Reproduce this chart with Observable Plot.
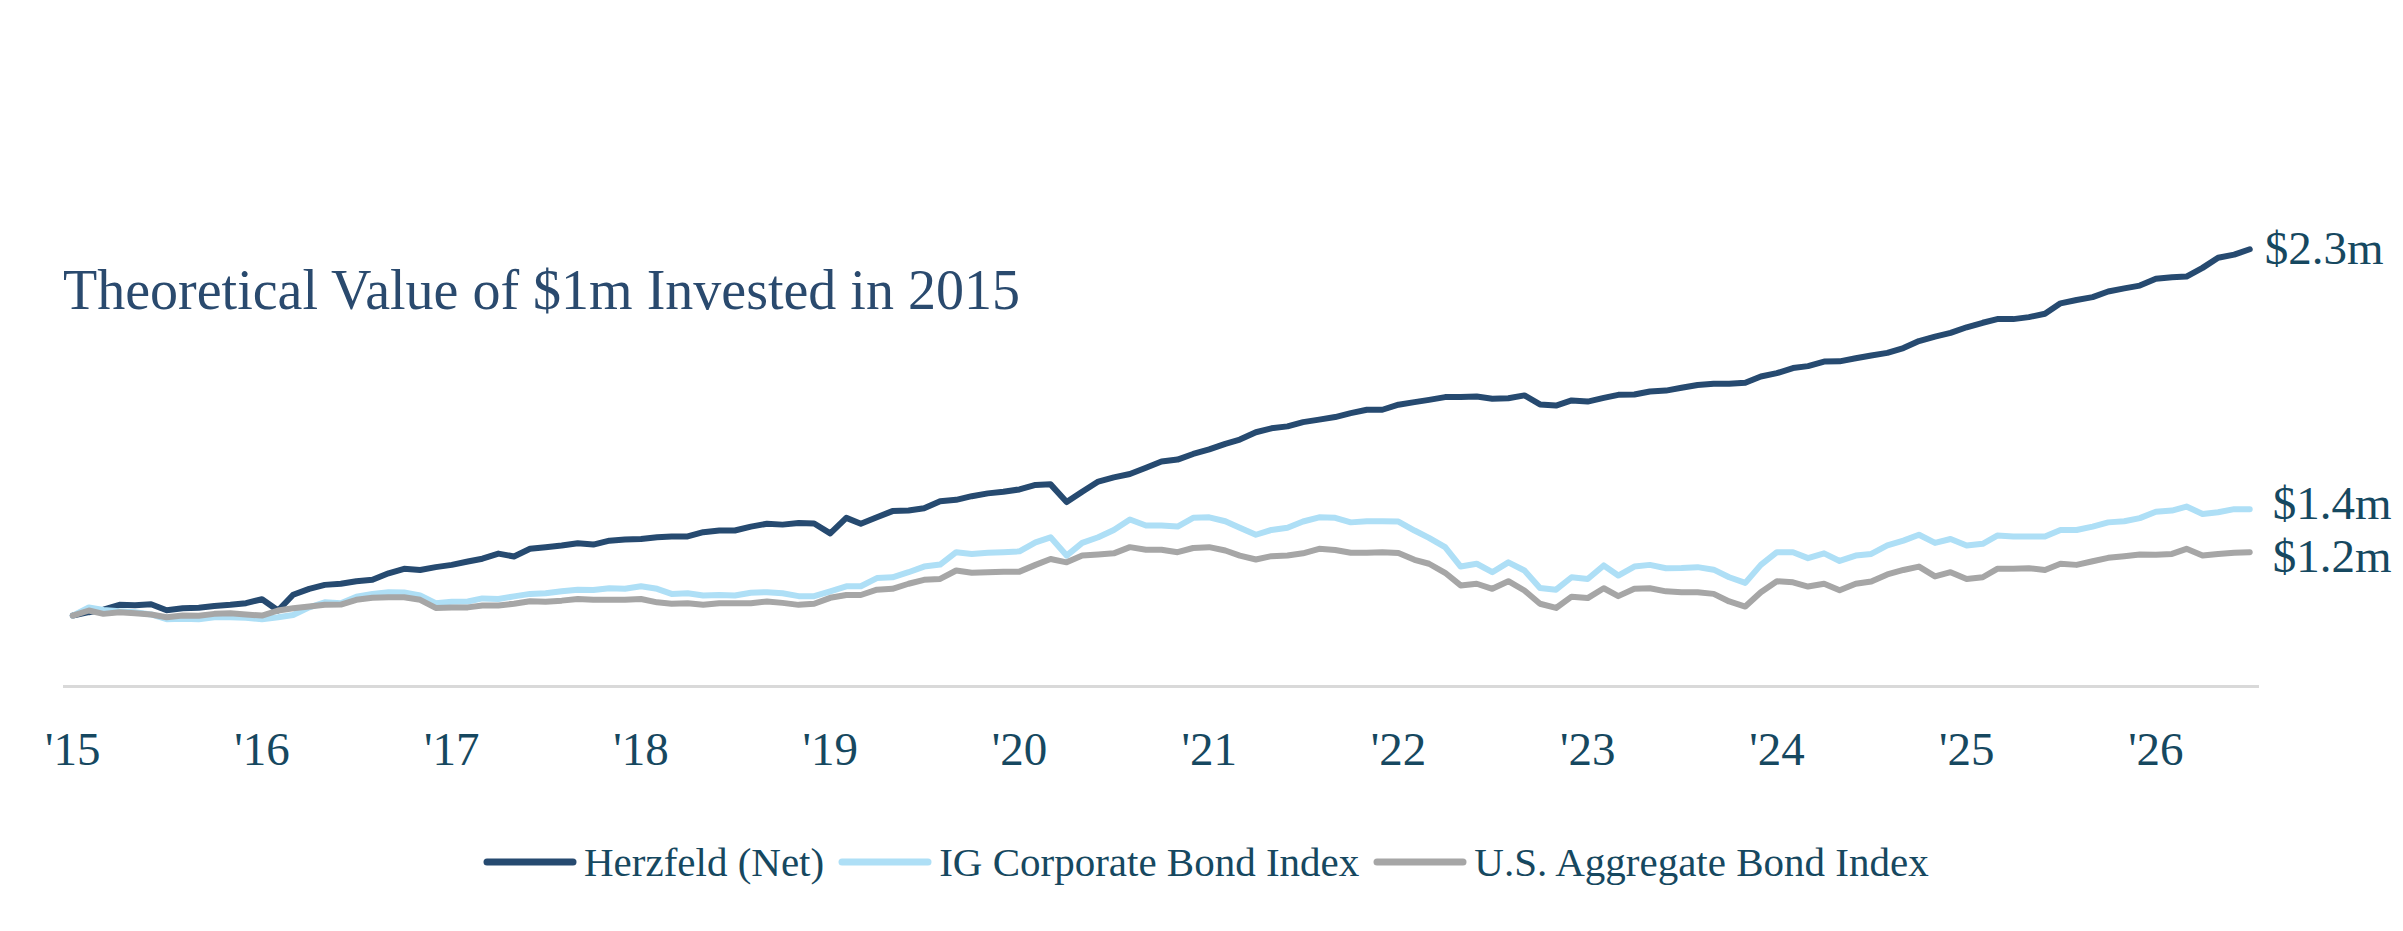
<!DOCTYPE html>
<html>
<head>
<meta charset="utf-8">
<script src="https://cdn.jsdelivr.net/npm/d3@7"></script>
<script src="https://cdn.jsdelivr.net/npm/@observablehq/plot@0.6"></script>
<style>
  html, body { margin: 0; padding: 0; background: #fff; }
  #wrap { position: relative; width: 2403px; height: 931px; overflow: hidden; font-family: "Liberation Serif", serif; }
  #title { position: absolute; left: 63px; top: 262px; font-size: 56px; line-height: 56px; color: #2a4a6e; white-space: nowrap; }
  #chart { position: absolute; left: 0; top: 0; }
  #legend { position: absolute; left: 483px; top: 837px; height: 50px; display: flex; align-items: center; font-size: 41px; color: #164860; white-space: nowrap; }
  .item { display: flex; align-items: center; margin-right: 14px; }
  .item svg { margin-right: 7px; }
</style>
</head>
<body>
<div id="wrap">
  <div id="chart"></div>
  <div id="title">Theoretical Value of $1m Invested in 2015</div>
  <div id="legend"></div>
</div>
<script>
// ---- data (monthly values, Dec 2014 = $1m start) ----
const seriesNames = ["Herzfeld (Net)", "IG Corporate Bond Index", "U.S. Aggregate Bond Index"];
const seriesColors = ["#264a70", "#aedff6", "#a6a6a6"];
const endLabels = ["$2.3m", "$1.4m", "$1.2m"];
const tickYears = [2015, 2016, 2017, 2018, 2019, 2020, 2021, 2022, 2023, 2024, 2025, 2026];
const tickLabels = ["'15", "'16", "'17", "'18", "'19", "'20", "'21", "'22", "'23", "'24", "'25", "'26"];

const herzfeld = [
  1.000, 1.012, 1.021, 1.038, 1.037, 1.040, 1.019, 1.026, 1.028, 1.034, 1.038, 1.044,
  1.058, 1.018, 1.074, 1.095, 1.109, 1.113, 1.122, 1.127, 1.150, 1.166, 1.162, 1.172,
  1.180, 1.192, 1.202, 1.220, 1.210, 1.237, 1.243, 1.249, 1.257, 1.252, 1.266, 1.270,
  1.272, 1.278, 1.281, 1.281, 1.296, 1.302, 1.302, 1.316, 1.326, 1.323, 1.329, 1.327,
  1.292, 1.347, 1.326, 1.349, 1.371, 1.373, 1.381, 1.406, 1.411, 1.424, 1.434, 1.440,
  1.448, 1.464, 1.466, 1.403, 1.440, 1.476, 1.491, 1.503, 1.525, 1.547, 1.554, 1.574,
  1.590, 1.610, 1.625, 1.651, 1.665, 1.672, 1.687, 1.696, 1.705, 1.719, 1.731, 1.731,
  1.749, 1.758, 1.766, 1.776, 1.776, 1.778, 1.770, 1.772, 1.782, 1.750, 1.746, 1.764,
  1.760, 1.773, 1.784, 1.785, 1.796, 1.799, 1.809, 1.819, 1.823, 1.823, 1.827, 1.849,
  1.861, 1.879, 1.886, 1.902, 1.903, 1.914, 1.924, 1.933, 1.950, 1.975, 1.991, 2.004,
  2.024, 2.040, 2.053, 2.053, 2.060, 2.072, 2.109, 2.121, 2.131, 2.151, 2.162, 2.172,
  2.196, 2.202, 2.204, 2.235, 2.271, 2.282, 2.301
];
const igCorporate = [
  1.000, 1.029, 1.020, 1.015, 1.012, 1.004, 0.987, 0.989, 0.987, 0.994, 0.994, 0.992,
  0.987, 0.994, 1.002, 1.029, 1.047, 1.044, 1.067, 1.077, 1.083, 1.082, 1.071, 1.044,
  1.049, 1.050, 1.061, 1.059, 1.068, 1.077, 1.079, 1.086, 1.092, 1.091, 1.097, 1.095,
  1.104, 1.095, 1.077, 1.079, 1.071, 1.073, 1.071, 1.081, 1.083, 1.079, 1.069, 1.069,
  1.086, 1.104, 1.104, 1.133, 1.136, 1.154, 1.174, 1.181, 1.225, 1.219, 1.223, 1.225,
  1.228, 1.260, 1.278, 1.213, 1.258, 1.278, 1.304, 1.341, 1.320, 1.320, 1.316, 1.347,
  1.349, 1.335, 1.312, 1.287, 1.304, 1.312, 1.334, 1.349, 1.347, 1.331, 1.335, 1.335,
  1.334, 1.302, 1.276, 1.243, 1.174, 1.184, 1.154, 1.189, 1.160, 1.098, 1.092, 1.136,
  1.130, 1.178, 1.142, 1.174, 1.180, 1.168, 1.169, 1.172, 1.163, 1.136, 1.116, 1.180,
  1.225, 1.225, 1.204, 1.221, 1.194, 1.213, 1.219, 1.249, 1.266, 1.287, 1.258, 1.272,
  1.249, 1.255, 1.284, 1.281, 1.281, 1.281, 1.304, 1.304, 1.316, 1.331, 1.335, 1.346,
  1.369, 1.373, 1.387, 1.361, 1.367, 1.378, 1.378
];
const usAggregate = [
  1.000, 1.018, 1.006, 1.012, 1.008, 1.004, 0.994, 1.000, 0.999, 1.006, 1.008, 1.004,
  1.000, 1.018, 1.026, 1.032, 1.038, 1.039, 1.056, 1.063, 1.065, 1.065, 1.056, 1.027,
  1.029, 1.029, 1.036, 1.036, 1.042, 1.051, 1.049, 1.053, 1.059, 1.056, 1.056, 1.056,
  1.059, 1.047, 1.042, 1.044, 1.038, 1.044, 1.044, 1.044, 1.050, 1.045, 1.038, 1.042,
  1.063, 1.073, 1.073, 1.092, 1.095, 1.113, 1.127, 1.130, 1.160, 1.152, 1.154, 1.156,
  1.156, 1.180, 1.201, 1.189, 1.213, 1.217, 1.221, 1.243, 1.234, 1.234, 1.225, 1.240,
  1.243, 1.231, 1.213, 1.199, 1.211, 1.213, 1.221, 1.237, 1.233, 1.223, 1.223, 1.225,
  1.222, 1.198, 1.184, 1.152, 1.107, 1.113, 1.095, 1.122, 1.089, 1.042, 1.027, 1.067,
  1.062, 1.097, 1.069, 1.095, 1.097, 1.086, 1.083, 1.083, 1.077, 1.050, 1.032, 1.083,
  1.122, 1.118, 1.103, 1.113, 1.090, 1.113, 1.121, 1.146, 1.162, 1.174, 1.139, 1.154,
  1.130, 1.136, 1.166, 1.166, 1.168, 1.162, 1.184, 1.180, 1.193, 1.205, 1.211, 1.217,
  1.216, 1.219, 1.237, 1.213, 1.219, 1.223, 1.225
];

// ---- build tables ----
const allSeries = [herzfeld, igCorporate, usAggregate];
const monthDate = i => new Date(Date.UTC(2015, i, 1));
const tables = allSeries.map((vals, s) => vals.map((v, i) => ({date: monthDate(i), value: v, series: seriesNames[s]})));
const lastPoints = tables.map((t, s) => ({...t[t.length - 1], label: endLabels[s]}));
const tickDates = tickYears.map(y => new Date(Date.UTC(y, 0, 1)));
const tickLabelFor = d => tickLabels[tickYears.indexOf(d.getUTCFullYear())];

const lineOpts = (s) => ({x: "date", y: "value", stroke: seriesColors[s], strokeWidth: 6, strokeLinecap: "round", strokeLinejoin: "round"});
const labelOpts = (dx, dy) => ({x: "date", y: "value", text: "label", textAnchor: "start", dx, dy, fontSize: 47, fill: "#164860"});

const chart = Plot.plot({
  width: 2403,
  height: 790,
  marginLeft: 64,
  marginRight: 146,
  marginTop: 52,
  marginBottom: 104,
  style: {fontFamily: "'Liberation Serif', serif", color: "#164860", background: "transparent", overflow: "visible"},
  x: {type: "utc", domain: [new Date(Date.UTC(2014, 11, 16)), new Date(Date.UTC(2026, 6, 16))]},
  y: {domain: [0.748, 3.0], axis: null},
  marks: [
    Plot.frame({anchor: "bottom", stroke: "#d9d9d9", strokeWidth: 3}),
    Plot.axisX({ticks: tickDates, tickFormat: tickLabelFor, tickSize: 0, tickPadding: 45, fontSize: 47, label: null, fill: "#164860"}),
    Plot.line(tables[0], lineOpts(0)),
    Plot.line(tables[1], lineOpts(1)),
    Plot.line(tables[2], lineOpts(2)),
    Plot.text(lastPoints.slice(0, 1), labelOpts(15, 0)),
    Plot.text(lastPoints.slice(1, 2), labelOpts(23, -5)),
    Plot.text(lastPoints.slice(2, 3), labelOpts(23, 5))
  ]
});
document.getElementById("chart").appendChild(chart);

// ---- legend ----
const legend = document.getElementById("legend");
seriesNames.forEach((name, s) => {
  const item = document.createElement("div");
  item.className = "item";
  item.innerHTML = `<svg width="94" height="12"><line x1="4" y1="6" x2="90" y2="6" stroke="${seriesColors[s]}" stroke-width="7" stroke-linecap="round"/></svg><span>${name}</span>`;
  legend.appendChild(item);
});
</script>
</body>
</html>
